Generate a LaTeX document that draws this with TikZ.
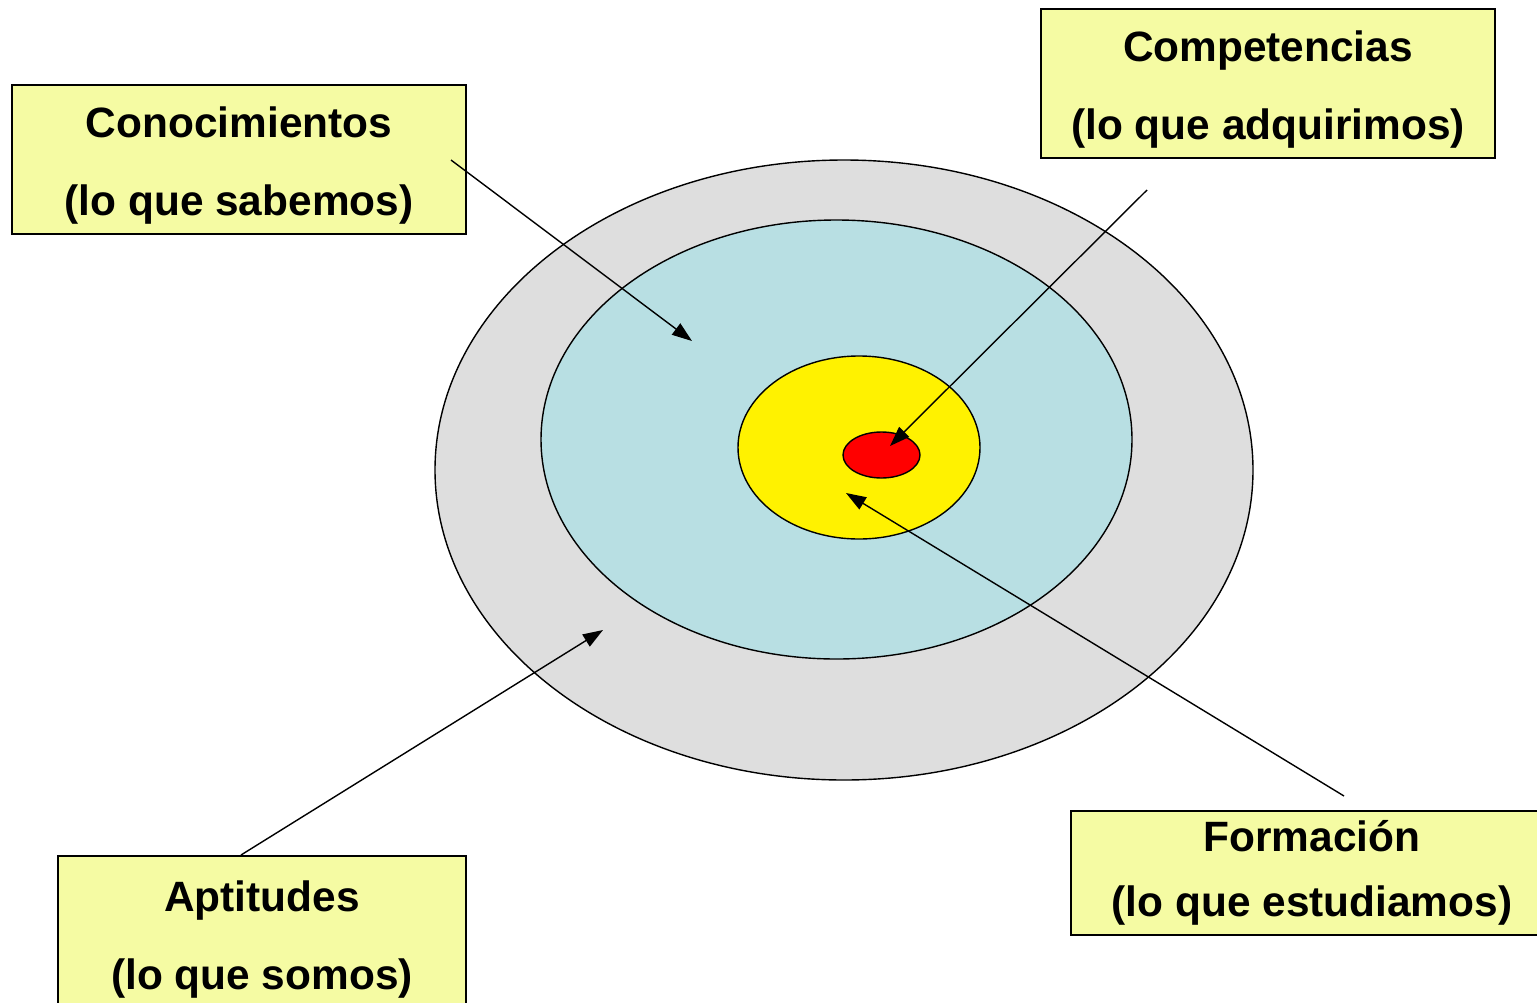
\documentclass[tikz,border=0pt]{standalone}
\usepackage{fontspec}
\setmainfont{Liberation Sans}
\usepackage{tikz}
\usetikzlibrary{arrows.meta}

\definecolor{boxfill}{HTML}{F5FBA3}
\definecolor{ringgray}{HTML}{DEDEDE}
\definecolor{ringblue}{HTML}{B8DFE3}

\newcommand{\toplift}{\rule{0pt}{21pt}}

\tikzset{
  label box/.style = {draw, line width=1pt, fill=boxfill, inner sep=0pt,
                      align=center, font=\fontsize{21.2}{39}\selectfont\bfseries},
  pointer/.style   = {line width=0.7pt, -{Triangle[length=10pt,width=7pt]}},
  ring/.style      = {draw, line width=0.7pt}
}

\begin{document}
\begin{tikzpicture}[x=0.5pt, y=-0.5pt]
  \clip (0,0) rectangle (1537,1002);
  \useasboundingbox (0,0) rectangle (1537,1002);

  % target rings
  \fill[white] (0,0) rectangle (1537,1002);
  \draw[ring, fill=ringgray] (844,470) ellipse [x radius=409, y radius=310];
  \draw[ring, fill=ringblue] (836.5,439.5) ellipse [x radius=295.5, y radius=219.5];
  \draw[ring, fill=yellow] (859,447.5) ellipse [x radius=121, y radius=91.5];
  \draw[ring, fill=red] (881.5,455) ellipse [x radius=38.5, y radius=23];

  % label boxes
  \node[label box, minimum width=227pt, minimum height=74.5pt] (conoc) at (239,159.5)
    {\toplift Conocimientos\\(lo que sabemos)};
  \node[label box, minimum width=227pt, minimum height=74.5pt] (compet) at (1268,83.5)
    {\toplift Competencias\\(lo que adquirimos)};
  \node[label box, minimum width=204pt, minimum height=78pt] (aptit) at (262,934)
    {\toplift Aptitudes\\(lo que somos)};
  \node[label box, minimum width=241pt, minimum height=62pt,
        font=\fontsize{21.2}{32.5}\selectfont\bfseries] (formac) at (1312,873)
    {Formación\\(lo que estudiamos)};

  % arrow ends
  \coordinate (conoc-tail) at (451,160);
  \coordinate (conoc-tip) at (692,341);
  \coordinate (compet-tail) at (1147,190);
  \coordinate (compet-tip) at (890,446);
  \coordinate (formac-tail) at (1344,796);
  \coordinate (formac-tip) at (846,493);
  \coordinate (aptit-tip) at (603,630);

  \draw[pointer] (conoc-tail) -- (conoc-tip);
  \draw[pointer] (compet-tail) -- (compet-tip);
  \draw[pointer] (formac-tail) -- (formac-tip);
  \draw[pointer] (aptit.north -| 241,0) -- (aptit-tip);
\end{tikzpicture}
\end{document}
